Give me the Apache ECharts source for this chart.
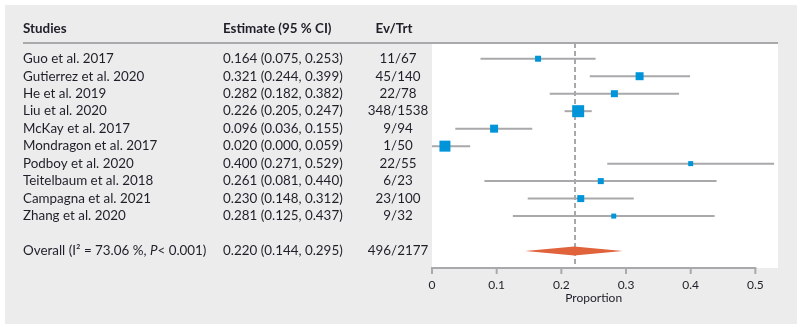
<!DOCTYPE html>
<html>
<head>
<meta charset="utf-8">
<script src="https://cdn.jsdelivr.net/npm/echarts@6/dist/echarts.min.js"></script>
<style>
  html, body { margin: 0; padding: 0; background: #fff; }
  #chart { width: 802px; height: 328px; }
</style>
</head>
<body>
<div id="chart"></div>
<script>
// Studies in the meta-analysis of pooled proportion
const studies = [
  'Guo et al. 2017', 'Gutierrez et al. 2020', 'He et al. 2019', 'Liu et al. 2020',
  'McKay et al. 2017', 'Mondragon et al. 2017', 'Podboy et al. 2020',
  'Teitelbaum et al. 2018', 'Campagna et al. 2021', 'Zhang et al. 2020'
];
const estimates = [0.164, 0.321, 0.282, 0.226, 0.096, 0.020, 0.400, 0.261, 0.230, 0.281];
const lowers    = [0.075, 0.244, 0.182, 0.205, 0.036, 0.000, 0.271, 0.081, 0.148, 0.125];
const uppers    = [0.253, 0.399, 0.382, 0.247, 0.155, 0.059, 0.529, 0.440, 0.312, 0.437];
const events    = [11, 45, 22, 348, 9, 1, 22, 6, 23, 9];
const totals    = [67, 140, 78, 1538, 94, 50, 55, 23, 100, 32];
// relative study weights (%), shown as square area
const weights   = [5.9, 10.4, 8.0, 23.5, 10.4, 19.7, 4.1, 5.9, 8.0, 4.1];

// pooled random-effects result
const overall = { est: 0.220, lo: 0.144, hi: 0.295, i2: 73.06, p: '< 0.001' };
const overallEvents = 496;
const overallTotal = 2177;

// x-axis ticks
const xTicks = [0, 0.1, 0.2, 0.3, 0.4, 0.5];

const overallRow = studies.length + 1;
const Y_MIN = -0.9, Y_MAX = 11.97;

const TEXT = '#1f1f2a';
const FONT = 'Lato, "Open Sans", sans-serif';
const FS = 13.4;
const CI_COLOR = '#a9a9ac';
const SQ_COLOR = '#0095d9';
const DIAMOND = '#e1633b';
const SIZE_K = 2.475;

const COL_NAME = 23, COL_EST = 223, COL_EV = 398;

const fmt = v => v.toFixed(3);

const studyRows = studies.map((s, i) => [i, estimates[i], lowers[i], uppers[i], weights[i]]);

function textEl(x, y, text, align, extra) {
  return {
    type: 'text', x: x, y: y,
    style: Object.assign({
      text: text, fill: TEXT, fontSize: FS, fontFamily: FONT,
      align: align || 'left', verticalAlign: 'middle'
    }, extra || {})
  };
}

const chart = echarts.init(document.getElementById('chart'), null, { renderer: 'canvas' });

chart.setOption({
  animation: false,
  backgroundColor: '#fff',
  graphic: [
    { type: 'rect', z: -10, shape: { x: 5, y: 5, width: 792, height: 319 }, style: { fill: '#ebeceb' } },
    { type: 'line', z: 10, shape: { x1: 23, y1: 43, x2: 778, y2: 43 }, style: { stroke: CI_COLOR, lineWidth: 2 } },
    textEl(COL_NAME, 29, 'Studies', 'left', { fontWeight: 'bold' }),
    textEl(COL_EST, 29, 'Estimate (95 % CI)', 'left', { fontWeight: 'bold' }),
    textEl(394, 29, 'Ev/Trt', 'center', { fontWeight: 'bold' })
  ],
  grid: {
    left: 432, top: 43, width: 346, height: 225,
    show: true, backgroundColor: '#fff', borderWidth: 0
  },
  xAxis: {
    type: 'value', min: 0, max: 0.535, position: 'bottom',
    splitLine: { show: false },
    axisLine: { show: false, onZero: false },
    axisTick: { show: false },
    axisLabel: {
      customValues: xTicks, margin: 11, color: TEXT,
      fontSize: 12, fontFamily: FONT,
      formatter: v => (v === 0 ? '0' : String(+v.toFixed(1)))
    }
  },
  yAxis: {
    type: 'value', min: Y_MIN, max: Y_MAX, inverse: true, show: false
  },
  series: [
    {
      // dashed reference line at the pooled estimate
      type: 'line', clip: false, silent: true, symbol: 'none',
      data: [],
      markLine: {
        silent: true, symbol: 'none', label: { show: false },
        lineStyle: { color: CI_COLOR, width: 2, type: [5, 3] },
        data: [{ xAxis: overall.est }]
      },
      z: 3
    },
    {
      type: 'custom', clip: false, z: 5,
      encode: { x: [1, 2, 3], y: 0 },
      data: studyRows,
      renderItem: function (params, api) {
        const idx = params.dataIndex;
        const row = api.value(0);
        const est = api.value(1), lo = api.value(2), hi = api.value(3), w = api.value(4);
        const pL = api.coord([lo, row]);
        const pH = api.coord([hi, row]);
        const pE = api.coord([est, row]);
        const side = SIZE_K * Math.sqrt(w);
        return {
          type: 'group',
          children: [
            { type: 'line', shape: { x1: pL[0], y1: pL[1], x2: pH[0], y2: pH[1] },
              style: { stroke: CI_COLOR, lineWidth: 2 } },
            { type: 'rect', shape: { x: pE[0] - side / 2, y: pE[1] - side / 2, width: side, height: side },
              style: { fill: SQ_COLOR } },
            textEl(COL_NAME, pE[1], studies[idx], 'left'),
            textEl(COL_EST, pE[1], fmt(est) + ' (' + fmt(lo) + ', ' + fmt(hi) + ')', 'left'),
            textEl(COL_EV, pE[1], events[idx] + '/' + totals[idx], 'center')
          ]
        };
      }
    },
    {
      type: 'custom', clip: false, z: 6,
      encode: { x: [1, 2, 3], y: 0 },
      data: [[overallRow, overall.est, overall.lo, overall.hi]],
      renderItem: function (params, api) {
        const row = api.value(0);
        const pE = api.coord([api.value(1), row]);
        const pL = api.coord([api.value(2), row]);
        const pH = api.coord([api.value(3), row]);
        const hh = 4.5;
        const base = api.coord([xTicks[0], Y_MAX]);
        const end = api.coord([xTicks[xTicks.length - 1], Y_MAX]);
        // axis baseline and tick marks spanning the labelled range
        const axisEls = [
          { type: 'line', shape: { x1: base[0] - 1, y1: base[1], x2: end[0] + 1, y2: end[1] },
            style: { stroke: CI_COLOR, lineWidth: 2 } }
        ].concat(xTicks.map(t => {
          const p = api.coord([t, Y_MAX]);
          return { type: 'line', shape: { x1: p[0], y1: p[1], x2: p[0], y2: p[1] + 6 },
                   style: { stroke: CI_COLOR, lineWidth: 2 } };
        }));
        return {
          type: 'group',
          children: axisEls.concat([
            { type: 'polygon',
              shape: { points: [[pL[0], pE[1]], [pE[0], pE[1] - hh], [pH[0], pE[1]], [pE[0], pE[1] + hh]] },
              style: { fill: DIAMOND } },
            {
              type: 'text', x: COL_NAME, y: pE[1],
              style: {
                text: '{a|Overall (I² = ' + overall.i2.toFixed(2) + ' %, }{i|P}{a|' + overall.p + ')}',
                verticalAlign: 'middle', align: 'left',
                rich: {
                  a: { fill: TEXT, fontSize: FS, fontFamily: FONT },
                  i: { fill: TEXT, fontSize: FS, fontFamily: FONT, fontStyle: 'italic' }
                }
              }
            },
            textEl(COL_EST, pE[1], fmt(overall.est) + ' (' + fmt(overall.lo) + ', ' + fmt(overall.hi) + ')', 'left'),
            textEl(COL_EV, pE[1], overallEvents + '/' + overallTotal, 'center'),
            textEl((base[0] + end[0]) / 2, base[1] + 30, 'Proportion', 'center', { fontSize: 12 })
          ])
        };
      }
    }
  ]
});
</script>
</body>
</html>
